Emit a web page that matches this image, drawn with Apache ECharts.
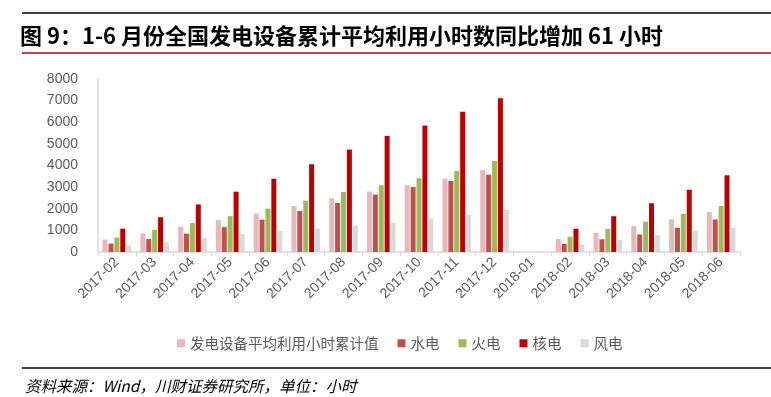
<!DOCTYPE html>
<html>
	<head>
		<meta charset="utf-8" />
		<script type="text/javascript" src="https://cdn.jsdelivr.net/npm/echarts@6/dist/echarts.min.js"></script>
		<title></title>
		<style>
			html, body { margin: 0; padding: 0; background: #fff; }
		</style>
	</head>
	<body>
		<div id="chartmain" style="width:771px; height: 397px;"></div>
		<script type="text/javascript">
var months = ['2017-02', '2017-03', '2017-04', '2017-05', '2017-06', '2017-07', '2017-08', '2017-09',
  '2017-10', '2017-11', '2017-12', '2018-01', '2018-02', '2018-03', '2018-04', '2018-05', '2018-06'];
// 发电设备平均利用小时累计值
var avgHours = [575, 870, 1170, 1470, 1776, 2130, 2484, 2793, 3086, 3395, 3786, null, 600, 890, 1200, 1510, 1858];
// 水电
var hydro = [390, 600, 850, 1150, 1497, 1898, 2268, 2654, 3009, 3287, 3579, null, 380, 590, 810, 1120, 1505];
// 火电
var thermal = [665, 1020, 1340, 1660, 2006, 2376, 2777, 3086, 3410, 3750, 4209, null, 710, 1060, 1400, 1760, 2126];
// 核电
var nuclear = [1080, 1610, 2200, 2790, 3390, 4058, 4737, 5370, 5848, 6481, 7108, null, 1075, 1655, 2255, 2880, 3548];
// 风电
var wind = [290, 450, 650, 840, 965, 1096, 1219, 1358, 1543, 1728, 1948, null, 340, 560, 780, 980, 1130];

var seriesNames = ['发电设备平均利用小时累计值', '水电', '火电', '核电', '风电'];
var seriesData = [avgHours, hydro, thermal, nuclear, wind];
var colors = ['#E6B9B8', '#C0504D', '#9BBB59', '#C00000', '#D9D9D9'];

var series = seriesNames.map(function (name, i) {
  return {
    name: name,
    type: 'bar',
    data: seriesData[i],
    barWidth: 5,
    barGap: '18%',
    itemStyle: { color: colors[i] }
  };
});

option = {
  animation: false,
  color: colors,
  title: {
    text: '图 9：1-6 月份全国发电设备累计平均利用小时数同比增加 61 小时',
    left: 15,
    top: 20,
    textStyle: {
      fontFamily: 'Noto Sans CJK SC',
      fontSize: 22,
      fontWeight: 'bold',
      color: '#000'
    }
  },
  graphic: [
    { type: 'line', shape: { x1: 22, y1: 13, x2: 771, y2: 13 }, style: { stroke: '#000', lineWidth: 1.5 } },
    { type: 'line', shape: { x1: 22, y1: 53, x2: 771, y2: 53 }, style: { stroke: '#C00000', lineWidth: 1.5 } },
    { type: 'line', shape: { x1: 22, y1: 368, x2: 771, y2: 368 }, style: { stroke: '#000', lineWidth: 1.5 } },
    {
      type: 'text', left: 25, top: 378,
      style: {
        text: '资料来源：Wind，川财证券研究所，单位：小时',
        font: 'italic 15.5px "Noto Sans CJK SC"',
        fill: '#000'
      }
    }
  ],
  legend: {
    data: seriesNames,
    left: 172,
    top: 331,
    itemWidth: 8,
    itemHeight: 8,
    itemGap: 19,
    icon: 'rect',
    textStyle: { fontFamily: 'Noto Sans CJK SC', fontSize: 14.5, color: '#595959' }
  },
  grid: { left: 98, right: 31, top: 79, bottom: 145 },
  xAxis: {
    type: 'category',
    data: months,
    axisLine: { lineStyle: { color: '#D9D9D9', width: 1.5 } },
    axisTick: { show: true, length: 4, lineStyle: { color: '#D9D9D9' } },
    axisLabel: { rotate: 45, interval: 0, fontSize: 14, color: '#595959', fontFamily: 'Liberation Sans', margin: 8 }
  },
  yAxis: {
    type: 'value',
    min: 0,
    max: 8000,
    interval: 1000,
    axisLine: { show: true, lineStyle: { color: '#D9D9D9', width: 1.5 } },
    axisTick: { show: false },
    splitLine: { show: false },
    axisLabel: {
      fontSize: 14, color: '#595959', fontFamily: 'Liberation Sans', margin: 20,
      formatter: function (v) { return String(v); }
    }
  },
  series: series
};
			var myChart = echarts.init(document.getElementById('chartmain'));
			myChart.setOption(option);

			window.addEventListener('resize', function () {
				myChart.resize()
			})
		</script>
	</body>
</html>
